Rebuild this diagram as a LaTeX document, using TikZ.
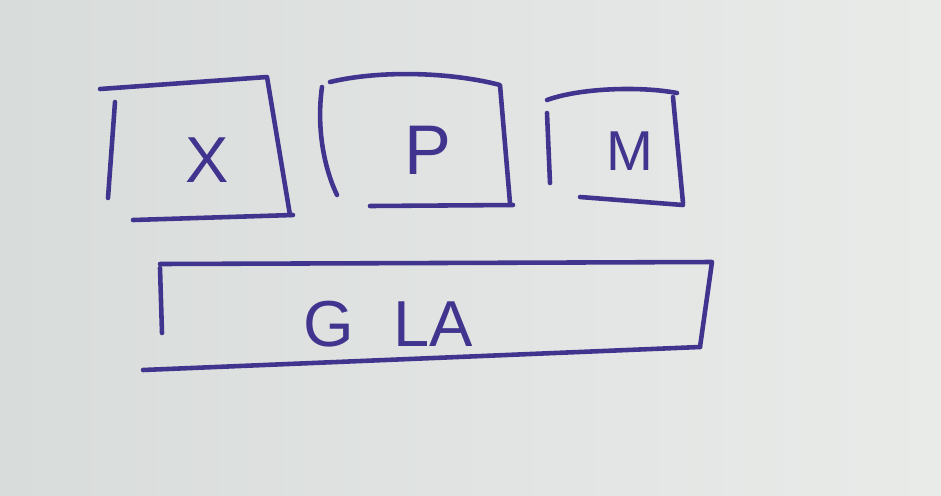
\documentclass[tikz,border=0pt]{standalone}
\usepackage{fontspec}
\setmainfont{Liberation Sans}
\definecolor{board}{RGB}{233,235,233}
\definecolor{boarddark}{RGB}{216,220,219}
\definecolor{marker}{RGB}{64,52,142}
\tikzset{
  pen/.style={marker, line width=2.6pt, line cap=round, line join=round},
  letter/.style={text=marker, inner sep=0pt, font=\fontsize{37}{40}\selectfont}
}
\begin{document}
\begin{tikzpicture}[x=0.02cm,y=-0.02cm]
    % whiteboard
    \shade[left color=boarddark, right color=board] (0,0) rectangle (941,495);
    % box X
    \draw[pen] (100,89) -- (267,77) -- (290,215);
    \draw[pen] (133,220) -- (293,215);
    \draw[pen] (115,102) -- (108,198);
    \node[letter] (x) at (207,160) {X};
    % box P
    \draw[pen] (330,82) .. controls (380,70) and (450,72) .. (500,85) -- (510,203);
    \draw[pen] (370,206) -- (513,205);
    \draw[pen] (322,87) .. controls (316,130) and (325,170) .. (337,195);
    \node[letter, font=\fontsize{40}{44}\selectfont] (p) at (428,150) {P};
    % box M
    \draw[pen] (547,100) .. controls (580,88) and (640,86) .. (677,93);
    \draw[pen] (673,97) -- (683,203);
    \draw[pen] (580,197) -- (683,205);
    \draw[pen] (547,113) -- (550,183);
    \node[letter, font=\fontsize{32}{36}\selectfont] (m) at (630,151) {M};
    % box GLA
    \draw[pen] (160,264) -- (712,262) -- (700,347);
    \draw[pen] (143,370) -- (700,347);
    \draw[pen] (160,268) -- (162,333);
    \node[letter] (gla) at (388,324) {G\hspace{0.6em}LA};
\end{tikzpicture}
\end{document}
